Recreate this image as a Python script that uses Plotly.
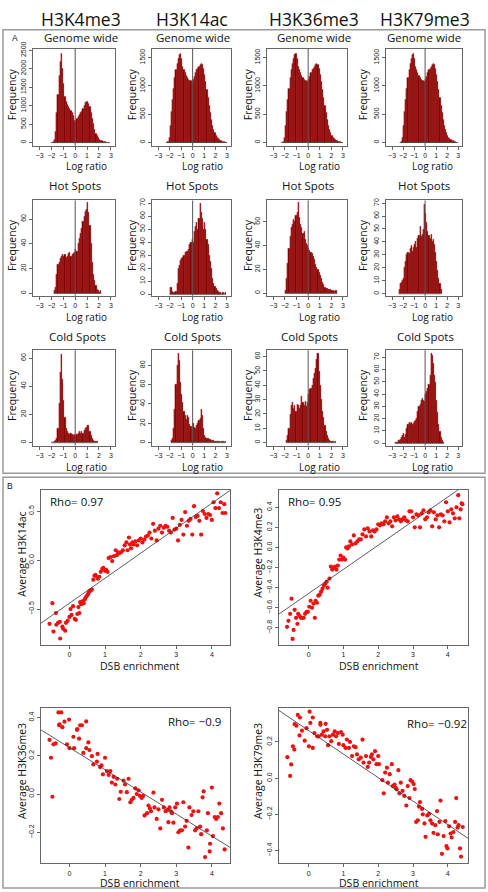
import plotly.graph_objects as go

W, H = 488, 892

# ---------------- data ----------------
marks = ["H3K4me3", "H3K14ac", "H3K36me3", "H3K79me3"]
row_titles = ["Genome wide", "Hot Spots", "Cold Spots"]
hist_xticks = [-3, -2, -1, 0, 1, 2, 3]
hist_xticktext = ["\u22123", "\u22122", "\u22121", "0", "1", "2", "3"]
bin_width = 0.1

# Genome wide (log ratio histograms), counts per 0.1 bin starting at *_start
genome_k4me3_start = -2.0
genome_k4me3 = [10, 30, 80, 300, 800, 1300, 1800, 2200, 2420, 2000, 1600, 1250, 1100, 1020, 980, 930,
                870, 800, 720, 600, 590, 660, 710, 750, 800, 850, 920, 1000, 1070, 1110, 1120, 1060,
                980, 820, 650, 500, 360, 250, 180, 130, 90, 65, 45, 30, 20, 12, 8, 4, 2]
genome_k14ac_start = -2.3
genome_k14ac = [5, 20, 80, 300, 550, 750, 950, 1150, 1280, 1400, 1490, 1560, 1580, 1480, 1350, 1290,
                1230, 1190, 1150, 1110, 1090, 1100, 1080, 1110, 1170, 1240, 1280, 1310, 1350, 1370,
                1390, 1380, 1300, 1200, 1080, 930, 800, 650, 520, 400, 300, 230, 170, 120, 90, 70,
                55, 40, 30, 20, 12, 6, 3]
genome_k36me3_start = -2.3
genome_k36me3 = [5, 20, 80, 300, 550, 750, 950, 1150, 1280, 1400, 1490, 1560, 1580, 1480, 1350, 1290,
                 1230, 1190, 1150, 1110, 1090, 1100, 1080, 1110, 1170, 1240, 1280, 1310, 1350, 1370,
                 1390, 1380, 1300, 1200, 1080, 930, 800, 650, 520, 400, 300, 230, 170, 120, 90, 70,
                 55, 40, 30, 20, 12, 6, 3]
genome_k79me3_start = -2.3
genome_k79me3 = [5, 20, 80, 300, 550, 750, 950, 1150, 1280, 1400, 1490, 1560, 1580, 1480, 1350, 1290,
                 1230, 1190, 1150, 1110, 1090, 1100, 1080, 1110, 1170, 1240, 1280, 1310, 1350, 1370,
                 1390, 1380, 1300, 1200, 1080, 930, 800, 650, 520, 400, 300, 230, 170, 120, 90, 70,
                 55, 40, 30, 20, 12, 6, 3]

# Hot spots
hot_k4me3_start = -1.8
hot_k4me3 = [2, 5, 15, 23, 25, 28, 30, 31, 30, 31, 29, 30, 32, 33, 30, 31, 32, 33, 35, 34, 40, 44, 48,
             52, 58, 62, 66, 68, 73, 65, 55, 40, 25, 15, 10, 6, 3, 2, 1, 2]
hot_k14ac_start = -2.0
hot_k14ac = [5, 5, 2, 1, 1, 2, 8, 20, 22, 26, 27, 28, 30, 32, 33, 33, 34, 38, 40, 42, 40, 48, 52, 55,
             50, 58, 70, 63, 58, 50, 55, 50, 42, 38, 30, 25, 20, 12, 8, 6, 4, 3, 2, 1, 1, 0, 1, 0, 1]
hot_k36me3_start = -2.0
hot_k36me3 = [2, 12, 25, 38, 48, 55, 58, 62, 60, 65, 68, 76, 64, 58, 55, 50, 52, 45, 42, 40, 38, 36,
              34, 33, 31, 28, 24, 22, 20, 17, 15, 12, 9, 7, 5, 4, 4, 3, 3, 3, 2, 2, 1, 2, 2]
hot_k79me3_start = -2.4
hot_k79me3 = [3, 8, 9, 10, 12, 20, 25, 30, 32, 31, 35, 37, 33, 36, 38, 40, 36, 43, 45, 52, 44, 46, 50,
              69, 62, 55, 48, 45, 43, 46, 40, 42, 38, 32, 25, 18, 12, 8, 3]

# Cold spots
cold_k4me3_start = -2.0
cold_k4me3 = [0, 0, 1, 2, 3, 10, 28, 50, 63, 45, 30, 18, 10, 8, 7, 6, 7, 6, 5, 6, 5, 6, 7, 8, 7, 8, 7,
              9, 10, 11, 12, 12, 8, 5, 3, 2, 1, 1, 1]
cold_k14ac_start = -1.9
cold_k14ac = [2, 5, 15, 35, 60, 80, 92, 85, 62, 50, 42, 32, 28, 24, 28, 26, 19, 17, 15, 20, 16, 15, 18,
              20, 23, 25, 34, 28, 15, 8, 6, 5, 4, 3, 3, 2, 2, 2, 1, 1, 1, 1, 1, 0, 1, 1, 0, 1]
cold_k36me3_start = -1.9
cold_k36me3 = [2, 5, 10, 20, 26, 28, 24, 26, 22, 27, 26, 24, 26, 32, 28, 26, 29, 25, 28, 34, 37, 38, 40,
               45, 48, 52, 58, 62, 50, 40, 30, 22, 18, 12, 8, 5, 3, 2, 1, 1, 1, 0, 1]
cold_k79me3_start = -2.7
cold_k79me3 = [1, 1, 2, 2, 3, 5, 6, 8, 5, 7, 12, 15, 17, 16, 17, 15, 16, 18, 19, 20, 26, 30, 32, 35, 37,
               35, 34, 40, 42, 45, 48, 55, 73, 72, 65, 55, 50, 35, 25, 15, 10, 5, 2, 1]

# y axis ranges / ticks of the histograms
hist_yranges = [[-90, 2545], [-60, 1660], [-60, 1660], [-60, 1660],
                [-2, 75], [-1.3, 72], [-2.2, 78], [-1.5, 72],
                [-2, 65.5], [-3, 95.5], [-2, 64.3], [-2, 75.8]]
hist_yticks = [[0, 500, 1000, 1500, 2000, 2500], [0, 500, 1000, 1500], [0, 500, 1000, 1500], [0, 500, 1000, 1500],
               [0, 20, 40, 60], [0, 10, 20, 30, 40, 50, 60, 70], [0, 20, 40, 60], [0, 10, 20, 30, 40, 50, 60, 70],
               [0, 20, 40, 60], [0, 20, 40, 60, 80], [0, 10, 20, 30, 40, 50, 60], [0, 10, 20, 30, 40, 50, 60, 70]]

# Scatter: DSB enrichment vs average modification
dsb_k14ac = [-0.56, -0.48, -0.45, -0.38, -0.37, -0.32, -0.27, -0.26, -0.2, -0.18, -0.12, -0.1, -0.05, 0.0,
             0.03, 0.06, 0.1, 0.15, 0.18, 0.22, 0.25, 0.28, 0.3, 0.33, 0.36, 0.4, 0.43, 0.46, 0.5, 0.53,
             0.56, 0.6, 0.63, 0.67, 0.7, 0.73, 0.77, 0.8, 0.84, 0.88, 0.92, 0.95, 1.0, 1.03, 1.07, 1.1,
             1.15, 1.2, 1.25, 1.3, 1.33, 1.37, 1.4, 1.45, 1.5, 1.55, 1.6, 1.63, 1.67, 1.7, 1.73, 1.77,
             1.8, 1.85, 1.9, 1.95, 2.0, 2.05, 2.1, 2.15, 2.2, 2.25, 2.3, 2.35, 2.4, 2.45, 2.5, 2.55, 2.6,
             2.65, 2.7, 2.75, 2.8, 2.85, 2.9, 2.95, 3.0, 3.05, 3.1, 3.15, 3.2, 3.25, 3.3, 3.35, 3.4, 3.45,
             3.5, 3.55, 3.6, 3.65, 3.7, 3.75, 3.8, 3.85, 3.9, 3.95, 4.0, 4.05, 4.1, 4.15, 4.2, 4.25, 4.3,
             4.35, 4.38]
avg_k14ac = [-0.65, -0.44, -0.73, -0.54, -0.66, -0.64, -0.63, -0.80, -0.68, -0.70, -0.72, -0.64, -0.62,
             -0.58, -0.50, -0.56, -0.47, -0.60, -0.61, -0.55, -0.48, -0.54, -0.43, -0.45, -0.42, -0.44,
             -0.40, -0.38, -0.36, -0.34, -0.32, -0.31, -0.30, -0.20, -0.16, -0.15, -0.17, -0.19, -0.17,
             -0.12, -0.09, -0.08, -0.11, -0.10, -0.12, 0.02, 0.03, -0.01, 0.04, 0.10, 0.05, 0.08, 0.07,
             0.08, 0.10, 0.15, 0.18, 0.10, 0.23, 0.16, 0.12, 0.18, 0.16, 0.19, 0.15, 0.20, 0.22, 0.18,
             0.21, 0.24, 0.25, 0.28, 0.22, 0.37, 0.30, 0.20, 0.32, 0.35, 0.28, 0.33, 0.35, 0.34, 0.30,
             0.28, 0.43, 0.31, 0.32, 0.20, 0.36, 0.41, 0.26, 0.49, 0.35, 0.40, 0.42, 0.26, 0.55, 0.44,
             0.45, 0.40, 0.26, 0.50, 0.47, 0.43, 0.47, 0.46, 0.41, 0.59, 0.53, 0.68, 0.53, 0.59, 0.48,
             0.57, 0.48]

dsb_k4me3 = [-0.62, -0.58, -0.53, -0.49, -0.46, -0.43, -0.4, -0.36, -0.32, -0.3, -0.26, -0.22, -0.18,
             -0.14, -0.1, -0.06, -0.02, 0.02, 0.06, 0.1, 0.14, 0.18, 0.2, 0.24, 0.28, 0.32, 0.36, 0.4,
             0.44, 0.48, 0.52, 0.55, 0.6, 0.64, 0.68, 0.72, 0.76, 0.8, 0.84, 0.88, 0.92, 0.96, 1.0, 1.05,
             1.08, 1.12, 1.16, 1.2, 1.25, 1.3, 1.35, 1.4, 1.45, 1.5, 1.55, 1.6, 1.65, 1.7, 1.75, 1.8,
             1.85, 1.9, 1.95, 2.0, 2.05, 2.1, 2.15, 2.2, 2.25, 2.3, 2.35, 2.4, 2.45, 2.5, 2.55, 2.6, 2.65,
             2.7, 2.75, 2.8, 2.85, 2.9, 2.95, 3.0, 3.05, 3.1, 3.15, 3.2, 3.25, 3.3, 3.35, 3.4, 3.45, 3.5,
             3.55, 3.6, 3.65, 3.7, 3.75, 3.8, 3.85, 3.9, 3.95, 4.0, 4.05, 4.1, 4.15, 4.2, 4.25, 4.3, 4.33,
             4.37, 4.4, 4.42]
avg_k4me3 = [-0.79, -0.73, -0.66, -0.51, -0.91, -0.82, -0.62, -0.70, -0.76, -0.66, -0.68, -0.70, -0.70,
             -0.70, -0.66, -0.64, -0.64, -0.59, -0.53, -0.60, -0.56, -0.70, -0.53, -0.55, -0.48, -0.47,
             -0.44, -0.41, -0.38, -0.36, -0.34, -0.40, -0.31, -0.19, -0.22, -0.20, -0.19, -0.22, -0.18,
             -0.12, -0.08, -0.12, -0.10, -0.12, 0.00, -0.01, 0.01, 0.06, 0.03, 0.12, 0.04, 0.06, 0.08,
             0.08, 0.13, 0.18, 0.11, 0.19, 0.16, 0.11, 0.17, 0.16, 0.18, 0.23, 0.22, 0.24, 0.23, 0.26,
             0.30, 0.24, 0.26, 0.21, 0.30, 0.27, 0.31, 0.28, 0.26, 0.28, 0.30, 0.27, 0.26, 0.36, 0.36,
             0.30, 0.20, 0.33, 0.32, 0.20, 0.34, 0.37, 0.28, 0.30, 0.35, 0.37, 0.21, 0.35, 0.28, 0.32,
             0.20, 0.33, 0.32, 0.26, 0.45, 0.36, 0.25, 0.38, 0.34, 0.29, 0.40, 0.52, 0.29, 0.38, 0.44,
             0.43]

dsb_k36me3 = [-0.56, -0.52, -0.48, -0.45, -0.39, -0.31, -0.29, -0.28, -0.23, -0.2, -0.14, -0.07, -0.01,
              0.0, 0.11, 0.13, 0.21, 0.22, 0.27, 0.3, 0.35, 0.39, 0.47, 0.47, 0.53, 0.56, 0.63, 0.67,
              0.77, 0.79, 0.86, 0.9, 0.94, 1.0, 1.05, 1.1, 1.15, 1.19, 1.24, 1.29, 1.34, 1.4, 1.44, 1.52,
              1.56, 1.61, 1.66, 1.71, 1.75, 1.8, 1.85, 1.89, 1.94, 1.98, 2.03, 2.07, 2.11, 2.18, 2.22,
              2.26, 2.29, 2.36, 2.39, 2.45, 2.5, 2.55, 2.6, 2.65, 2.7, 2.74, 2.78, 2.81, 2.85, 2.88, 2.92,
              2.97, 3.02, 3.06, 3.11, 3.16, 3.2, 3.25, 3.29, 3.34, 3.37, 3.43, 3.48, 3.53, 3.57, 3.62,
              3.67, 3.7, 3.74, 3.77, 3.81, 3.86, 3.89, 3.94, 3.95, 4.0, 4.03, 4.08, 4.12, 4.17, 4.21,
              4.26, 4.31, 4.36]
avg_k36me3 = [0.284, 0.19, -0.014, 0.26, 0.265, 0.427, 0.36, 0.365, 0.427, 0.35, 0.379, 0.26, 0.39,
              0.24, 0.30, 0.24, 0.336, 0.34, 0.29, 0.36, 0.36, 0.215, 0.38, 0.24, 0.27, 0.23, 0.198,
              0.155, 0.17, 0.21, 0.141, 0.15, 0.103, 0.19, 0.12, 0.10, 0.12, 0.06, 0.09, 0.05, 0.08,
              -0.026, 0.012, 0.07, 0.05, 0.01, 0.08, -0.043, -0.03, -0.02, 0.03, 0.0, 0.02, -0.01,
              -0.02, -0.01, -0.112, -0.10, -0.06, -0.075, -0.09, 0.008, -0.07, -0.13, -0.08, -0.18,
              -0.03, -0.07, -0.09, -0.085, -0.147, -0.07, -0.09, -0.10, -0.15, -0.07, -0.05, -0.2,
              -0.19, -0.19, -0.043, -0.17, -0.14, -0.28, -0.07, -0.11, -0.09, -0.19, -0.18, -0.09,
              -0.17, -0.21, -0.017, 0.014, -0.33, -0.19, -0.10, -0.30, -0.26, 0.034, -0.22, -0.12,
              -0.13, -0.12, -0.05, -0.10, -0.18, -0.29]

dsb_k79me3 = [-0.61, -0.53, -0.5, -0.45, -0.41, -0.4, -0.35, -0.31, -0.26, -0.25, -0.19, -0.11, -0.06,
              0.01, 0.03, 0.05, 0.12, 0.12, 0.17, 0.25, 0.29, 0.34, 0.34, 0.38, 0.43, 0.48, 0.49, 0.53,
              0.56, 0.6, 0.65, 0.7, 0.75, 0.79, 0.84, 0.87, 0.93, 0.98, 1.0, 1.06, 1.1, 1.16, 1.19, 1.25,
              1.3, 1.35, 1.39, 1.44, 1.5, 1.55, 1.58, 1.65, 1.7, 1.74, 1.79, 1.82, 1.86, 1.91, 1.95, 2.0,
              2.02, 2.12, 2.16, 2.2, 2.25, 2.28, 2.33, 2.39, 2.42, 2.47, 2.5, 2.53, 2.58, 2.61, 2.65, 2.7,
              2.75, 2.81, 2.85, 2.9, 2.93, 2.98, 3.02, 3.05, 3.09, 3.14, 3.17, 3.2, 3.26, 3.28, 3.33,
              3.36, 3.41, 3.46, 3.5, 3.55, 3.59, 3.64, 3.69, 3.71, 3.76, 3.79, 3.83, 3.88, 3.93, 3.96,
              3.99, 4.04, 4.08, 4.11, 4.16, 4.21, 4.24, 4.28, 4.31, 4.35, 4.38, 4.43]
avg_k79me3 = [0.116, 0.012, 0.076, 0.176, 0.158, 0.298, 0.29, 0.349, 0.236, 0.335, 0.262, 0.207, 0.276,
              0.176, 0.367, 0.305, 0.167, 0.335, 0.249, 0.231, 0.231, 0.305, 0.295, 0.24, 0.258, 0.231,
              0.30, 0.267, 0.182, 0.231, 0.204, 0.24, 0.258, 0.231, 0.249, 0.189, 0.255, 0.24, 0.182,
              0.167, 0.213, 0.167, 0.20, 0.122, 0.176, 0.171, 0.131, 0.104, 0.113, 0.213, 0.086, 0.122,
              0.062, 0.086, 0.117, 0.131, 0.104, 0.149, 0.077, 0.122, 0.077, -0.011, -0.084, 0.031,
              0.058, -0.025, 0.022, 0.077, -0.044, -0.035, -0.053, -0.062, 0.044, -0.084, -0.025,
              -0.07, -0.098, -0.151, -0.044, -0.11, -0.011, -0.02, -0.033, -0.06, -0.242, -0.233,
              -0.157, -0.133, -0.17, -0.2, -0.25, -0.324, -0.206, -0.197, -0.233, -0.251, -0.302,
              -0.26, -0.182, -0.31, -0.242, -0.124, -0.418, -0.32, -0.237, -0.375, -0.388, -0.266,
              -0.306, -0.328, -0.298, -0.242, -0.11, -0.273, -0.26, -0.388, -0.433, -0.27]

scatter_ylabels = ["Average H3K14ac", "Average H3K4me3", "Average H3K36me3", "Average H3K79me3"]
rho_labels = ["Rho= 0.97", "Rho= 0.95", "Rho= \u22120.9", "Rho= \u22120.92"]
fit_intercepts = [-0.44, -0.458, 0.243, 0.263]
fit_slopes = [0.255, 0.24, -0.1158, -0.130]
scatter_xranges = [[-0.8, 4.51], [-0.85, 4.58], [-0.8, 4.51], [-0.85, 4.58]]
scatter_yranges = [[-0.866, 0.713], [-0.97, 0.57], [-0.362, 0.448], [-0.47, 0.385]]
scatter_yticks = [[-0.5, 0.0, 0.5], [-0.8, -0.6, -0.4, -0.2, 0.0, 0.2, 0.4],
                  [-0.2, 0.0, 0.2, 0.4], [-0.4, -0.2, 0.0, 0.2]]
scatter_xticks = [0, 1, 2, 3, 4]

# ---------------- layout helpers ----------------
FONT = "Open Sans"
TICKFONT = dict(family="Liberation Sans", size=7, color="#222")
FRAME = "#666"

def xdom(a, b):
    return [a / W, b / W]

def ydom(top, bottom):
    return [1 - bottom / H, 1 - top / H]

def fmt(v):
    s = f"{v:.1f}" if isinstance(v, float) else str(v)
    return s.replace("-", "\u2212")

def axname(n):
    return ("x" if n == 1 else f"x{n}"), ("y" if n == 1 else f"y{n}")

fig = go.Figure()
layout = dict(width=W, height=H, margin=dict(l=0, r=0, t=0, b=0),
              paper_bgcolor="white", plot_bgcolor="white", showlegend=False,
              shapes=[], annotations=[], bargap=0)

hist_cols = [(33, 115), (152, 231), (267, 347), (386, 462)]
hist_rows = [(42, 140), (195, 291), (346, 442)]
row_title_y = [31, 180, 332]
log_ratio_y = [160.5, 312, 463.5]
title_x = [[81, 193, 314, 424], [75, 192, 308, 424], [77, 192, 309, 425]]
logratio_x = [[86, 202, 319, 432], [86, 202, 319, 432], [86, 202, 319, 432]]
freq_x = [12, 132, 248, 363]

hist_data = [
    (genome_k4me3_start, genome_k4me3), (genome_k14ac_start, genome_k14ac),
    (genome_k36me3_start, genome_k36me3), (genome_k79me3_start, genome_k79me3),
    (hot_k4me3_start, hot_k4me3), (hot_k14ac_start, hot_k14ac),
    (hot_k36me3_start, hot_k36me3), (hot_k79me3_start, hot_k79me3),
    (cold_k4me3_start, cold_k4me3), (cold_k14ac_start, cold_k14ac),
    (cold_k36me3_start, cold_k36me3), (cold_k79me3_start, cold_k79me3),
]

def ann(text, x, y, size, angle=0, family=FONT, color="#111"):
    layout["annotations"].append(dict(
        text=text, x=x / W, y=1 - y / H, xref="paper", yref="paper",
        xanchor="center", yanchor="middle", showarrow=False, textangle=angle,
        font=dict(family=family, size=size, color=color)))

def axis_common():
    return dict(showline=True, mirror=True, linecolor=FRAME, linewidth=1,
                ticks="outside", ticklen=3, tickcolor=FRAME, tickwidth=1,
                showgrid=False, zeroline=False, tickfont=TICKFONT, fixedrange=True)

n = 0
for r in range(3):
    for c in range(4):
        n += 1
        idx = r * 4 + c
        start, counts = hist_data[idx]
        xs = [start + bin_width * (i + 0.5) for i in range(len(counts))]
        xa, ya = axname(n)
        fig.add_trace(go.Bar(x=xs, y=counts, width=bin_width, xaxis=xa, yaxis=ya,
                             marker=dict(color="#870000", line=dict(color="#9c1010", width=0.3))))
        fig.add_trace(go.Scatter(x=[start, start + bin_width * len(counts)], y=[0, 0], mode="lines",
                                 line=dict(color="#444", width=0.8), xaxis=xa, yaxis=ya,
                                 hoverinfo="skip"))
        xr = dict(axis_common(), domain=xdom(*hist_cols[c]), range=[-3.55, 3.35], anchor=ya,
                  tickvals=hist_xticks, ticktext=hist_xticktext, tickangle=0)
        yr = dict(axis_common(), domain=ydom(*hist_rows[r]), range=hist_yranges[idx], anchor=xa,
                  tickvals=hist_yticks[idx], ticktext=[str(v) for v in hist_yticks[idx]],
                  tickangle=-90)
        layout["xaxis" if n == 1 else f"xaxis{n}"] = xr
        layout["yaxis" if n == 1 else f"yaxis{n}"] = yr
        layout["shapes"].append(dict(type="line", xref=xa, yref=f"{ya} domain", x0=0, x1=0, y0=0, y1=1,
                                     line=dict(color="#555", width=1)))
        ann(row_titles[r], title_x[r][c], row_title_y[r], 11.5)
        ann("Log ratio", logratio_x[r][c], log_ratio_y[r], 10)
        ann("Frequency", freq_x[c], (hist_rows[r][0] + hist_rows[r][1]) / 2 - 3, 10.5, angle=-90)

# scatter plots
sc_cols = [(41, 230), (279, 468)]
sc_rows = [(487, 643), (707, 863)]
sc_data = [(dsb_k14ac, avg_k14ac), (dsb_k4me3, avg_k4me3), (dsb_k36me3, avg_k36me3), (dsb_k79me3, avg_k79me3)]
ylabel_pos = [(22, 552), (258, 550), (22, 770), (258, 770)]
rho_pos = [(76, 498), (314, 498), (194, 720), (437, 722)]
dsb_pos = [(140, 664), (379, 664), (140, 883), (379, 883)]
for k in range(4):
    n += 1
    r, c = divmod(k, 2)
    xa, ya = axname(n)
    xs, ys = sc_data[k]
    fig.add_trace(go.Scatter(x=xs, y=ys, mode="markers", xaxis=xa, yaxis=ya,
                             marker=dict(color="#EE1111", size=4.2, line=dict(width=0))))
    x0, x1 = scatter_xranges[k]
    fig.add_trace(go.Scatter(x=[x0, x1],
                             y=[fit_intercepts[k] + fit_slopes[k] * x0, fit_intercepts[k] + fit_slopes[k] * x1],
                             mode="lines", line=dict(color="#333", width=0.8), xaxis=xa, yaxis=ya,
                             hoverinfo="skip"))
    layout[f"xaxis{n}"] = dict(axis_common(), domain=xdom(*sc_cols[c]), range=scatter_xranges[k],
                               anchor=ya, tickvals=scatter_xticks, tickangle=0)
    layout[f"yaxis{n}"] = dict(axis_common(), domain=ydom(*sc_rows[r]), range=scatter_yranges[k],
                               anchor=xa, tickvals=scatter_yticks[k],
                               ticktext=[fmt(v) for v in scatter_yticks[k]], tickangle=-90)
    ann(scatter_ylabels[k], ylabel_pos[k][0], ylabel_pos[k][1], 10.5, angle=-90)
    ann(rho_labels[k], rho_pos[k][0], rho_pos[k][1], 11.5)
    ann("DSB enrichment", dsb_pos[k][0], dsb_pos[k][1], 10.5)

header_x = [81, 192, 314, 425]
for c in range(4):
    ann(marks[c], header_x[c], 12, 17.5)
ann("A", 15, 31, 8.5, family="Liberation Sans")
ann("B", 10, 483, 8.5, family="Liberation Sans")

for (t, b) in [(23, 470), (474, 888)]:
    layout["shapes"].append(dict(type="rect", xref="paper", yref="paper",
                                 x0=3 / W, x1=485 / W, y0=1 - b / H, y1=1 - t / H,
                                 line=dict(color="#9a9a9a", width=1.5)))

fig.update_layout(**layout)
fig.write_html("out.html", config={"displayModeBar": False},
               post_script="document.body.style.margin='0';document.body.style.overflow='hidden';")
